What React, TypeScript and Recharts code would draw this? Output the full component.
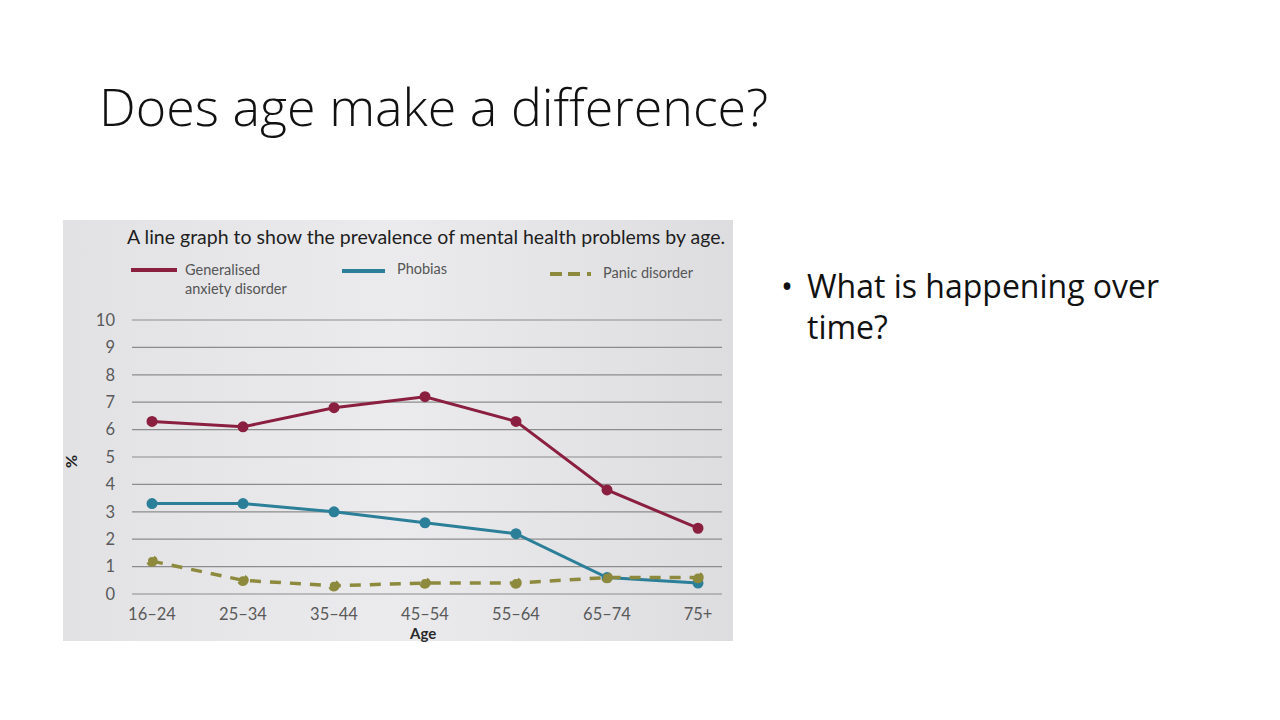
import React from "react";
import { LineChart, Line, XAxis, YAxis, CartesianGrid } from "recharts";

const ageGroups = ["16–24", "25–34", "35–44", "45–54", "55–64", "65–74", "75+"];
const anxiety = [6.3, 6.1, 6.8, 7.2, 6.3, 3.8, 2.4];
const phobias = [3.3, 3.3, 3.0, 2.6, 2.2, 0.6, 0.4];
const panic = [1.2, 0.5, 0.3, 0.4, 0.4, 0.6, 0.6];
const yTicks = [0, 1, 2, 3, 4, 5, 6, 7, 8, 9, 10];

const data = ageGroups.map((age, i) => ({
  age,
  anxiety: anxiety[i],
  phobias: phobias[i],
  panic: panic[i],
}));

const MAROON = "#8a1f3f";
const TEAL = "#2b7f98";
const OLIVE = "#8d8a3e";
const BOOK = "Lato, 'Open Sans', sans-serif";

const tick = { fontSize: 16.5, fill: "#5a5a5a", fontFamily: BOOK };

export default function App() {
  return (
    <div style={{ position: "relative", width: 1280, height: 720, background: "#fff", margin: -8, overflow: "hidden" }}>
      <div
        style={{
          position: "absolute",
          left: 99,
          top: 70,
          fontFamily: "'Open Sans', sans-serif",
          fontWeight: 300,
          fontSize: 52,
          color: "#111",
          whiteSpace: "nowrap",
        }}
      >
        Does age make a difference?
      </div>

      <div
        style={{
          position: "absolute",
          left: 63,
          top: 220,
          width: 670,
          height: 421,
          background: "linear-gradient(90deg, #e2e2e5 0%, #ebebed 50%, #dddde0 100%)",
          fontFamily: BOOK,
        }}
      >
        <div style={{ position: "absolute", left: 64, top: 5, fontSize: 19.5, color: "#1e1e1e", whiteSpace: "nowrap" }}>
          A line graph to show the prevalence of mental health problems by age.
        </div>

        {/* legend */}
        <div style={{ position: "absolute", left: 68, top: 48, width: 46, height: 4, background: MAROON }} />
        <div style={{ position: "absolute", left: 122, top: 40, fontSize: 14.5, color: "#555", lineHeight: "19px" }}>
          Generalised
          <br />
          anxiety disorder
        </div>
        <div style={{ position: "absolute", left: 279, top: 49, width: 43, height: 4, background: TEAL }} />
        <div style={{ position: "absolute", left: 334, top: 40, fontSize: 14.5, color: "#555" }}>Phobias</div>
        <div style={{ position: "absolute", left: 487, top: 52, width: 12, height: 4, background: OLIVE }} />
        <div style={{ position: "absolute", left: 505, top: 52, width: 12, height: 4, background: OLIVE }} />
        <div style={{ position: "absolute", left: 524, top: 52, width: 4, height: 4, background: OLIVE }} />
        <div style={{ position: "absolute", left: 540, top: 44, fontSize: 14.5, color: "#555" }}>Panic disorder</div>

        <div
          style={{
            position: "absolute",
            left: 1,
            top: 232,
            fontSize: 16,
            fontWeight: 700,
            color: "#222",
            transform: "rotate(-90deg)",
          }}
        >
          %
        </div>
        <div style={{ position: "absolute", left: 347, top: 404, fontSize: 15, fontWeight: 700, color: "#2a2a2a" }}>Age</div>

        <div style={{ position: "absolute", left: 0, top: 0 }}>
          <LineChart width={670} height={421} data={data} margin={{ top: 100, right: 11, bottom: 17, left: 0 }}>
            <CartesianGrid vertical={false} stroke="#8c8c8c" strokeWidth={1.2} />
            <XAxis
              dataKey="age"
              tick={tick}
              tickLine={false}
              axisLine={false}
              tickMargin={8}
              height={30}
              padding={{ left: 20, right: 24 }}
            />
            <YAxis
              domain={[0, 10]}
              ticks={yTicks}
              interval={0}
              tick={tick}
              tickLine={false}
              axisLine={false}
              width={69}
              tickMargin={11}
            />
            <Line
              dataKey="anxiety"
              stroke={MAROON}
              strokeWidth={3}
              dot={{ r: 4, fill: MAROON, stroke: MAROON }}
              isAnimationActive={false}
            />
            <Line
              dataKey="phobias"
              stroke={TEAL}
              strokeWidth={3}
              dot={{ r: 4, fill: TEAL, stroke: TEAL }}
              isAnimationActive={false}
            />
            <Line
              dataKey="panic"
              stroke={OLIVE}
              strokeWidth={3.5}
              strokeDasharray="11 9"
              dot={{ r: 4, fill: OLIVE, stroke: OLIVE }}
              isAnimationActive={false}
            />
          </LineChart>
        </div>
      </div>

      <div
        style={{
          position: "absolute",
          left: 781,
          top: 265,
          fontFamily: "'Open Sans', sans-serif",
          fontSize: 32,
          color: "#111",
          lineHeight: "41px",
        }}
      >
        <span style={{ position: "absolute", left: 0, top: 0 }}>•</span>
        <div style={{ marginLeft: 26 }}>
          What is happening over
          <br />
          time?
        </div>
      </div>
    </div>
  );
}
